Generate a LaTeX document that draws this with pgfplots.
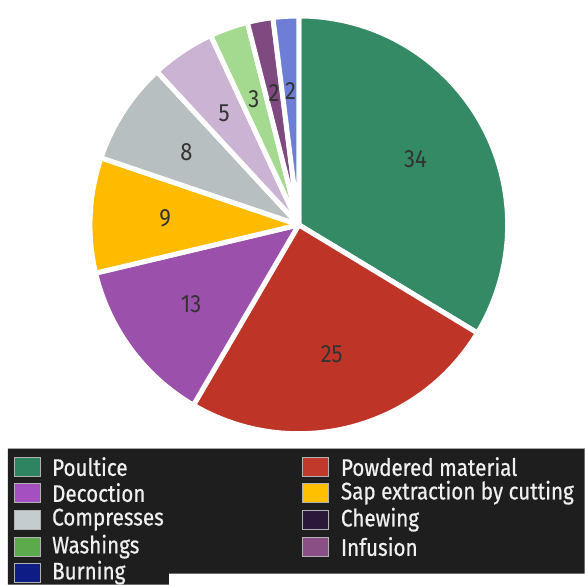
\documentclass[border=0pt]{standalone}
\usepackage{fontspec}
\setmainfont{Fira Sans}[FakeStretch=0.88]
\newfontfamily\legfont{Fira Sans}[FakeStretch=0.86, FakeBold=0.6]
\usepackage{pgfplots}
\usepackage{pgfplotstable}
\pgfplotsset{compat=1.18}

% slice colours
\definecolor{sPoultice}{HTML}{338A64}
\definecolor{sPowdered}{HTML}{BE3527}
\definecolor{sDecoction}{HTML}{9B50AB}
\definecolor{sSap}{HTML}{FFBB00}
\definecolor{sCompresses}{HTML}{B8BFC1}
\definecolor{sChewing}{HTML}{CBB3D3}
\definecolor{sWashings}{HTML}{A3DA8F}
\definecolor{sInfusion}{HTML}{7E4A80}
\definecolor{sBurning}{HTML}{6E7ED6}
% legend swatch colours
\definecolor{lPoultice}{HTML}{2E8460}
\definecolor{lPowdered}{HTML}{C0392B}
\definecolor{lDecoction}{HTML}{A550C0}
\definecolor{lSap}{HTML}{FFC000}
\definecolor{lCompresses}{HTML}{C5CCCF}
\definecolor{lChewing}{HTML}{2B1838}
\definecolor{lWashings}{HTML}{5BAA4C}
\definecolor{lInfusion}{HTML}{8A4F85}
\definecolor{lBurning}{HTML}{0E1C86}
\definecolor{legendbg}{HTML}{1E1E1E}
\definecolor{legendtext}{HTML}{F0F0F0}
\definecolor{labeltext}{HTML}{333333}

% legend entry: #1 = x of swatch, #2 = y centre, #3 = colour, #4 = text
\newcommand\legentry[4]{%
  \filldraw[fill=#3, draw=gray!60, line width=0.6pt]
    (axis cs:#1,#2) ++(0pt,-9.5pt) rectangle ++(26pt,19pt);
  \node[anchor=west, inner sep=0pt, text=legendtext,
    font=\legfont\fontsize{24}{26}\selectfont] at (axis cs:#1,#2) [xshift=38pt] {#4};
}

% use counts per preparation method, clockwise from the top
\pgfplotstableread{
value scol
34 sPoultice
25 sPowdered
13 sDecoction
9  sSap
8  sCompresses
5  sChewing
3  sWashings
2  sInfusion
2  sBurning
}\piedata

\begin{document}
\begin{tikzpicture}
\begin{axis}[width=585pt,height=585pt,scale only axis,
  xmin=0,xmax=585,ymin=0,ymax=585,hide axis,clip=false]

% full canvas
\path (axis cs:0,0) rectangle (axis cs:585,585);

% legend panel
\fill[legendbg] (axis cs:8,136) -- (axis cs:585,136) -- (axis cs:585,11)
  -- (axis cs:169,11) -- (axis cs:169,0) -- (axis cs:8,0) -- cycle;
\draw[gray!70, line width=0.8pt] (axis cs:8,136) -- (axis cs:585,136);

% pie wedges
\pgfplotstablegetrowsof{\piedata}
\pgfmathtruncatemacro\nrows{\pgfplotsretval-1}
\def\total{0}
\pgfplotsforeachungrouped \i in {0,...,\nrows}{%
  \pgfplotstablegetelem{\i}{value}\of\piedata
  \pgfmathsetmacro\total{\total+\pgfplotsretval}%
}
\def\startang{90}
\pgfplotsforeachungrouped \i in {0,...,\nrows}{%
  \pgfplotstablegetelem{\i}{value}\of\piedata
  \let\val\pgfplotsretval
  \pgfplotstablegetelem{\i}{scol}\of\piedata
  \let\col\pgfplotsretval
  \pgfmathsetmacro\endang{\startang-\val*360/\total}%
  \pgfmathsetmacro\midang{(\startang+\endang)/2}%
  \edef\cmd{%
    \noexpand\filldraw[fill=\col, draw=white, line width=5pt, line join=round]
      (axis cs:299,360) -- ++(\startang:209pt)
      arc[start angle=\startang, end angle=\endang, radius=209pt] -- cycle;
    \noexpand\path (axis cs:299,360) ++(\midang:134pt)
      node[text=labeltext, font=\noexpand\fontsize{25}{27}\noexpand\selectfont] {\val};
  }\cmd
  \let\startang\endang
}

% legend entries
\legentry{14}{118}{lPoultice}{Poultice}
\legentry{14}{92}{lDecoction}{Decoction}
\legentry{14}{65}{lCompresses}{Compresses}
\legentry{14}{38}{lWashings}{Washings}
\legentry{14}{12}{lBurning}{Burning}
\legentry{303}{118}{lPowdered}{Powdered material}
\legentry{303}{92}{lSap}{Sap extraction by cutting}
\legentry{303}{65}{lChewing}{Chewing}
\legentry{303}{38}{lInfusion}{Infusion}
\end{axis}
\end{tikzpicture}
\end{document}
